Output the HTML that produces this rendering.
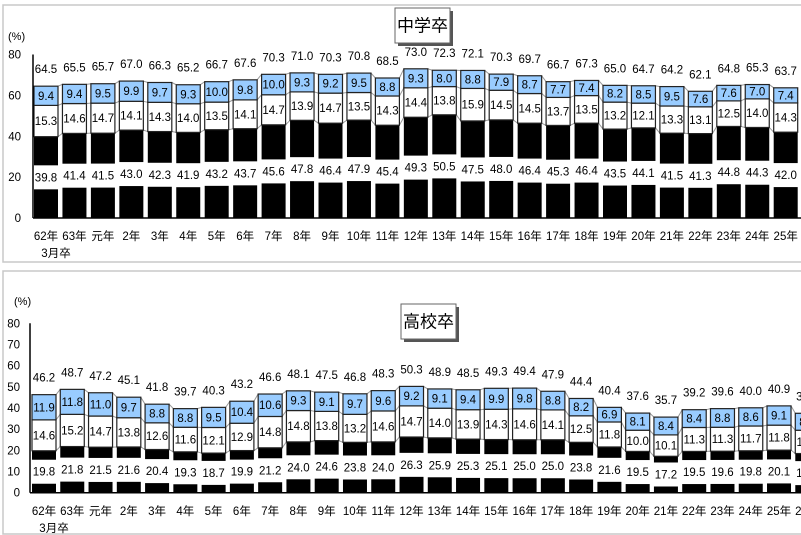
<!DOCTYPE html>
<html><head><meta charset="utf-8"><style>
body{margin:0;background:#fff;}
svg{display:block;font-family:"Liberation Sans","Noto Sans CJK JP",sans-serif;}
</style></head><body>
<svg id="chart" width="801" height="535" viewBox="0 0 801 535" xmlns="http://www.w3.org/2000/svg"></svg>
<script>
const jhCategories=["62年","63年","元年","2年","3年","4年","5年","6年","7年","8年","9年","10年","11年","12年","13年","14年","15年","16年","17年","18年","19年","20年","21年","22年","23年","24年","25年"];
const jhBlack=[39.8,41.4,41.5,43.0,42.3,41.9,43.2,43.7,45.6,47.8,46.4,47.9,45.4,49.3,50.5,47.5,48.0,46.4,45.3,46.4,43.5,44.1,41.5,41.3,44.8,44.3,42.0];
const jhWhite=[15.3,14.6,14.7,14.1,14.3,14.0,13.5,14.1,14.7,13.9,14.7,13.5,14.3,14.4,13.8,15.9,14.5,14.5,13.7,13.5,13.2,12.1,13.3,13.1,12.5,14.0,14.3];
const jhBlue=[9.4,9.4,9.5,9.9,9.7,9.3,10.0,9.8,10.0,9.3,9.2,9.5,8.8,9.3,8.0,8.8,7.9,8.7,7.7,7.4,8.2,8.5,9.5,7.6,7.6,7.0,7.4];
const jhTotal=[64.5,65.5,65.7,67.0,66.3,65.2,66.7,67.6,70.3,71.0,70.3,70.8,68.5,73.0,72.3,72.1,70.3,69.7,66.7,67.3,65.0,64.7,64.2,62.1,64.8,65.3,63.7];
const jhTicks=[0,20,40,60,80];

const hsCategories=["62年","63年","元年","2年","3年","4年","5年","6年","7年","8年","9年","10年","11年","12年","13年","14年","15年","16年","17年","18年","19年","20年","21年","22年","23年","24年","25年","26年"];
const hsBlack=[19.8,21.8,21.5,21.6,20.4,19.3,18.7,19.9,21.2,24.0,24.6,23.8,24.0,26.3,25.9,25.3,25.1,25.0,25.0,23.8,21.6,19.5,17.2,19.5,19.6,19.8,20.1,18.5];
const hsWhite=[14.6,15.2,14.7,13.8,12.6,11.6,12.1,12.9,14.8,14.8,13.8,13.2,14.6,14.7,14.0,13.9,14.3,14.6,14.1,12.5,11.8,10.0,10.1,11.3,11.3,11.7,11.8,11.0];
const hsBlue=[11.9,11.8,11.0,9.7,8.8,8.8,9.5,10.4,10.6,9.3,9.1,9.7,9.6,9.2,9.1,9.4,9.9,9.8,8.8,8.2,6.9,8.1,8.4,8.4,8.8,8.6,9.1,8.0];
const hsTotal=[46.2,48.7,47.2,45.1,41.8,39.7,40.3,43.2,46.6,48.1,47.5,46.8,48.3,50.3,48.9,48.5,49.3,49.4,47.9,44.4,40.4,37.6,35.7,39.2,39.6,40.0,40.9,37.5];
const hsTicks=[0,10,20,30,40,50,60,70,80];

const NS="http://www.w3.org/2000/svg";
const svg=document.getElementById('chart');
function mk(tag,attrs,parent,text){const e=document.createElementNS(NS,tag);for(const k in attrs)e.setAttribute(k,attrs[k]);if(text!==undefined)e.textContent=text;(parent||svg).appendChild(e);return e;}

function panel(o){
  const g=mk('g',{});
  
  
  const border=mk('rect',{x:o.bx,y:o.by,width:o.bw,height:o.bh,fill:'#fff',stroke:'#c8c8c8','stroke-width':1.5},g);
  
  
  const y=v=>o.y0-(v/o.max)*(o.y0-o.yTop);
  const xl=i=>o.x0+i*o.pitch;
  const tg=mk('g',{},g);
  
  
  mk('rect',{x:o.tx+3,y:o.ty+3,width:o.tw,height:o.th,fill:'#555'},tg);
  mk('rect',{x:o.tx,y:o.ty,width:o.tw,height:o.th,fill:'#fff',stroke:'#666'},tg);
  mk('text',{x:o.tx+o.tw/2,y:o.ty+o.th/2+6,'text-anchor':'middle','font-size':17,fill:'#000'},tg,o.title);
  const u=mk('text',{x:o.ux,y:o.uy,'font-size':11,fill:'#000'},g,'(%)');
  
  
  o.ticks.forEach(t=>{
    const tl=mk('text',{x:o.tickX,y:y(t)+4,'text-anchor':'end','font-size':11.5,fill:'#000'},g,String(t));
    
    
  });
  const n=o.cats.length;
  const lev=[o.black,o.black.map((b,i)=>b+o.white[i]),o.black.map((b,i)=>b+o.white[i]+o.blue[i])];
  lev.forEach(L=>{for(let i=0;i<n-1;i++){mk('line',{x1:xl(i)+o.bw0,y1:y(L[i]),x2:xl(i+1),y2:y(L[i+1]),stroke:'#999','stroke-width':1},g);}});
  for(let i=0;i<n;i++){
    const x=xl(i),w=o.bw0;
    const bg=mk('g',{},g);
    
    
    const b0=y(0),b1=y(o.black[i]),b2=y(o.black[i]+o.white[i]),b3=y(o.black[i]+o.white[i]+o.blue[i]);
    mk('rect',{x:x,y:b1,width:w,height:b0-b1,fill:'#000'},bg);
    mk('rect',{x:x,y:b2,width:w,height:b1-b2,fill:'#fff',stroke:'#222','stroke-width':1.2},bg);
    mk('rect',{x:x,y:b3,width:w,height:b2-b3,fill:'#99ccff',stroke:'#222','stroke-width':1.2},bg);
    const mid=y(o.black[i]/2);
    mk('rect',{x:x-3,y:mid-12,width:w+6,height:24,fill:'#fff'},bg);
    mk('text',{x:x+w/2,y:mid+4,'text-anchor':'middle','font-size':11.5,fill:'#000'},bg,o.black[i].toFixed(1));
    mk('text',{x:x+w/2,y:(b1+b2)/2+4,'text-anchor':'middle','font-size':11.5,fill:'#000'},bg,o.white[i].toFixed(1));
    mk('text',{x:x+w/2,y:(b2+b3)/2+4,'text-anchor':'middle','font-size':11.5,fill:'#000'},bg,o.blue[i].toFixed(1));
    mk('text',{x:x+w/2,y:b3-13,'text-anchor':'middle','font-size':11.5,fill:'#000'},bg,o.total[i].toFixed(1));
    const cl=mk('text',{x:x+w/2,y:o.catY,'text-anchor':'middle','font-size':11.5,fill:'#000'},g,o.cats[i]);
    
    
  }
  mk('text',{x:xl(0)+o.bw0/2+10,y:o.catY+17,'text-anchor':'middle','font-size':11.5,fill:'#000'},g,'3月卒');
  const ax=mk('line',{x1:o.axisX,y1:o.yTop,x2:o.axisX,y2:o.y0,stroke:'#000','stroke-width':1.5},g);
  
  
  const bx=mk('line',{x1:o.axisX,y1:o.y0,x2:801,y2:o.y0,stroke:'#000','stroke-width':1.5},g);
  
  
}
panel({name:'junior-high-panel',title:'中学卒',cats:jhCategories,black:jhBlack,white:jhWhite,blue:jhBlue,total:jhTotal,ticks:jhTicks,
  bx:3,by:5,bw:820,bh:257,tx:395,ty:8,tw:55,th:35,ux:8,uy:40,tickX:21,max:80,y0:218,yTop:54.5,x0:34,pitch:28.45,bw0:24,catY:240,axisX:33});
panel({name:'high-school-panel',title:'高校卒',cats:hsCategories,black:hsBlack,white:hsWhite,blue:hsBlue,total:hsTotal,ticks:hsTicks,
  bx:3,by:271,bw:820,bh:263,tx:401,ty:304,tw:55,th:35,ux:14,uy:305,tickX:20,max:80,y0:492.7,yTop:323.3,x0:32,pitch:28.27,bw0:24,catY:515,axisX:30});
</script>
</body></html>
